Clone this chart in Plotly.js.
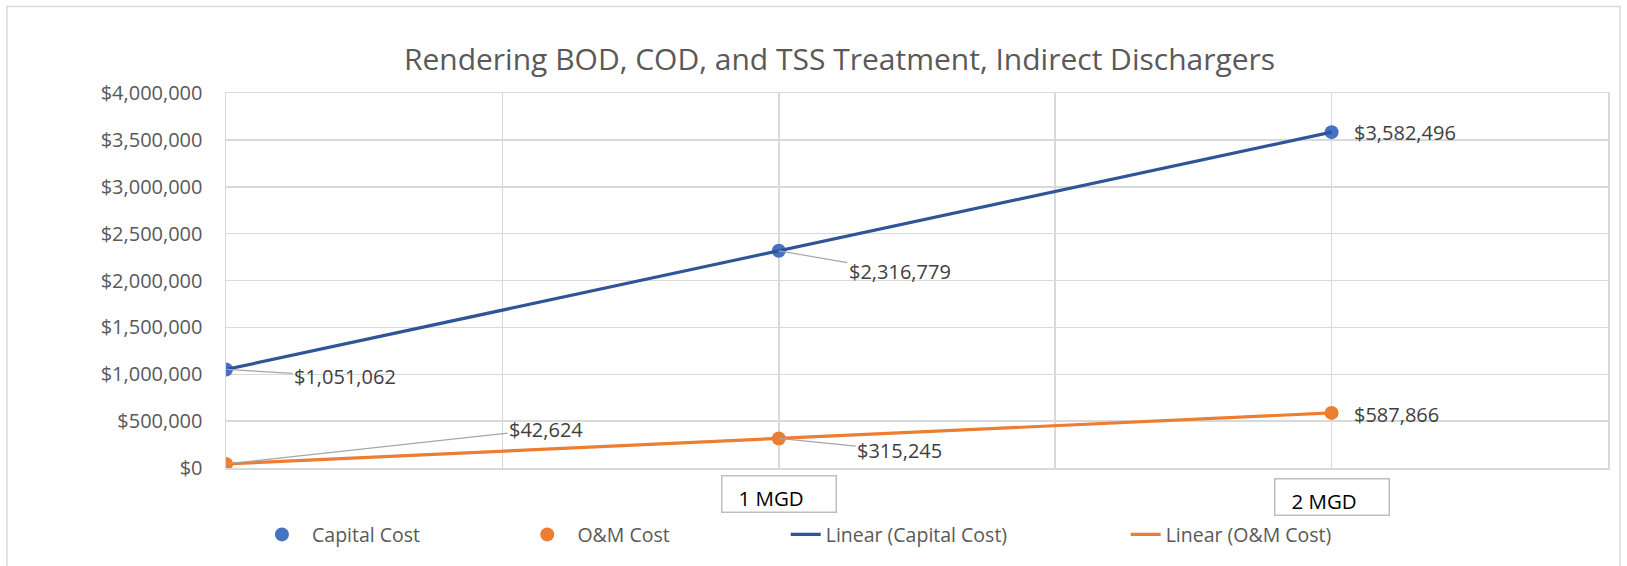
<!DOCTYPE html>
<html>
<head>
<meta charset="utf-8">
<script src="https://cdn.plot.ly/plotly-3.0.1.min.js"></script>
<style>html,body{margin:0;padding:0;background:#fff;}#chart{width:1627px;height:566px;}</style>
</head>
<body>
<div id="chart"></div>
<script>
// Data
const flowMGD = [0, 1, 2];
const capitalCost = [1051062, 2316779, 3582496];
const omCost = [42624, 315245, 587866];
const capitalLabels = ["$1,051,062", "$2,316,779", "$3,582,496"];
const omLabels = ["$42,624", "$315,245", "$587,866"];
const xBoxLabels = ["1 MGD", "2 MGD"];
const xBoxPositions = [1, 2];
const seriesNames = ["Capital Cost", "O&M Cost", "Linear (Capital Cost)", "Linear (O&M Cost)"];

const FONT = "'Open Sans', sans-serif";
const GRID = "#d9d9d9";
const PAD = "\u00a0\u00a0";

const traces = [
  {x: flowMGD, y: capitalCost, mode: "markers", name: PAD + seriesNames[0],
   marker: {color: "#4472c4", size: 14}, legend: "legend", hoverinfo: "skip"},
  {x: flowMGD, y: omCost, mode: "markers", name: PAD + seriesNames[1],
   marker: {color: "#ed7d31", size: 14}, legend: "legend2", hoverinfo: "skip"},
  {x: flowMGD, y: capitalCost, mode: "lines", name: seriesNames[2],
   line: {color: "#2f5597", width: 3.2}, legend: "legend3", hoverinfo: "skip"},
  {x: flowMGD, y: omCost, mode: "lines", name: seriesNames[3],
   line: {color: "#ed7d31", width: 3.2}, legend: "legend4", hoverinfo: "skip"}
];

const lblFont = {family: FONT, size: 20, color: "#404040"};
const leader = {showarrow: true, arrowhead: 0, arrowwidth: 1.2, arrowcolor: "#a6a6a6", standoff: 0};

const annotations = [
  Object.assign({x: flowMGD[0], y: capitalCost[0], text: capitalLabels[0], ax: 119, ay: 7, font: lblFont}, leader),
  Object.assign({x: flowMGD[1], y: capitalCost[1], text: capitalLabels[1], ax: 121, ay: 21, font: lblFont}, leader),
  {x: flowMGD[2], y: capitalCost[2], text: capitalLabels[2], showarrow: false, xanchor: "left", xshift: 20, yshift: 0, font: lblFont},
  Object.assign({x: flowMGD[0], y: omCost[0], text: omLabels[0], ax: 320, ay: -35, font: lblFont}, leader),
  Object.assign({x: flowMGD[1], y: omCost[1], text: omLabels[1], ax: 121, ay: 12, font: lblFont}, leader),
  {x: flowMGD[2], y: omCost[2], text: omLabels[2], showarrow: false, xanchor: "left", xshift: 20, yshift: -2, font: lblFont}
];

const boxY = [-0.068, -0.076];
xBoxLabels.forEach(function (t, i) {
  annotations.push({
    x: xBoxPositions[i], xref: "x", y: boxY[i], yref: "paper",
    text: "\u00a0\u00a0\u00a0" + t, showarrow: false,
    xanchor: "center", yanchor: "middle",
    width: 113, height: 35, align: "left", valign: "bottom",
    bordercolor: "#bfbfbf", borderwidth: 1.5, borderpad: 0,
    bgcolor: "#ffffff",
    font: {family: FONT, size: 20.5, color: "#000000"}
  });
});

function legendAt(x) {
  return {x: x, xanchor: "left", y: -0.178, yanchor: "middle", orientation: "h",
          font: {family: FONT, size: 19.5, color: "#595959"}, bgcolor: "rgba(0,0,0,0)"};
}

const layout = {
  width: 1627, height: 566,
  margin: {l: 226, r: 19, t: 93, b: 96},
  paper_bgcolor: "#ffffff", plot_bgcolor: "#ffffff",
  title: {text: "Rendering BOD, COD, and TSS Treatment, Indirect Dischargers",
          x: 0.516, xref: "container", xanchor: "center",
          y: 0.895, yref: "container", yanchor: "middle",
          font: {family: FONT, size: 30, color: "#595959"}},
  xaxis: {range: [0, 2.5], dtick: 0.5, tick0: 0, showticklabels: false,
          showgrid: true, gridcolor: GRID, gridwidth: 1.5, zeroline: false,
          showline: true, linecolor: GRID, linewidth: 1.5, mirror: true, fixedrange: true},
  yaxis: {range: [0, 4000000], dtick: 500000, tick0: 0, tickformat: "$,.0f",
          showgrid: true, gridcolor: GRID, gridwidth: 1.5, zeroline: false,
          showline: true, linecolor: GRID, linewidth: 1.5, mirror: true,
          ticklabelstandoff: 18,
          tickfont: {family: FONT, size: 20, color: "#595959"}, fixedrange: true},
  showlegend: true,
  legend: legendAt(0.026),
  legend2: legendAt(0.218),
  legend3: legendAt(0.405),
  legend4: legendAt(0.651),
  annotations: annotations,
  shapes: [{type: "rect", xref: "paper", yref: "paper", x0: -0.1585, x1: 1.0087, y0: -0.4, y1: 1.2308,
            line: {color: GRID, width: 1.5}, layer: "below"}]
};

Plotly.newPlot("chart", traces, layout, {displayModeBar: false, staticPlot: true});
</script>
</body>
</html>
